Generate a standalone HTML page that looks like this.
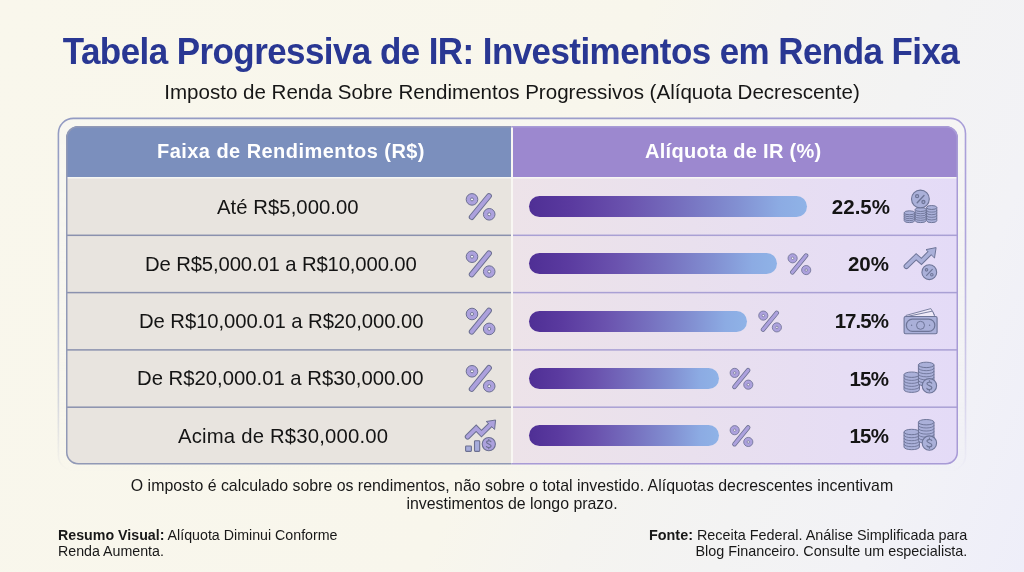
<!DOCTYPE html>
<html><head><meta charset="utf-8">
<style>
*{margin:0;padding:0;box-sizing:border-box}
html,body{width:1024px;height:572px;overflow:hidden}
body{position:relative;font-family:"Liberation Sans",sans-serif;color:#1c1c1c;
background:linear-gradient(112deg,#f9f7ec 0%,#f8f6ec 52%,#f5f4f0 63%,#f3f3f3 75%,#f2f2f6 87%,#eeeef9 100%);}
.abs{position:absolute;white-space:nowrap}
.abs,.ht,.rt,.pt{will-change:transform}
#title{left:-1.5px;width:1024px;text-align:center;top:32.4px;font-size:35px;line-height:40px;font-weight:bold;color:#293793;letter-spacing:-0.58px;transform:scaleY(1.05);transform-origin:50% 31px}
#sub{left:0;width:1024px;text-align:center;top:79.5px;font-size:20.55px;line-height:24px;color:#161616}
.ht{position:absolute;top:139px;font-size:20px;font-weight:bold;color:#fff;line-height:24px;letter-spacing:0.45px;white-space:nowrap}
.rt{position:absolute;font-size:20.3px;line-height:24px;color:#141414;white-space:nowrap}
.pt{position:absolute;font-size:20.5px;line-height:24px;font-weight:bold;color:#141414;text-align:right;width:80px;white-space:nowrap}
.bar{position:absolute;left:528.7px;height:21.1px;border-radius:10.55px;background:linear-gradient(90deg,#4f2f95 0%,#5a3a9f 15%,#6a52ae 35%,#7670bf 55%,#8290d2 75%,#8cabe3 90%,#8fb3e7 100%)}
#foot{left:0;width:1024px;text-align:center;top:476.5px;font-size:15.9px;line-height:17.7px;color:#181818}
#fl{left:58px;top:526.9px;font-size:14.22px;line-height:16.2px;color:#181818}
#fr{right:57px;top:526.5px;font-size:14.4px;line-height:16.2px;color:#181818;text-align:right}
svg{position:absolute;left:0;top:0;overflow:visible}
</style></head><body>
<div class="abs" id="title">Tabela Progressiva de IR: Investimentos em Renda Fixa</div>
<div class="abs" id="sub">Imposto de Renda Sobre Rendimentos Progressivos (Alíquota Decrescente)</div>
<svg width="1024" height="572" viewBox="0 0 1024 572"><defs>
<linearGradient id="gFrame" x1="58" y1="0" x2="966" y2="0" gradientUnits="userSpaceOnUse"><stop offset="0" stop-color="#939bc2"/><stop offset="0.5" stop-color="#9a9dc8"/><stop offset="1" stop-color="#a89dd8"/></linearGradient>
<linearGradient id="gFade" x1="0" y1="118" x2="0" y2="472" gradientUnits="userSpaceOnUse"><stop offset="0" stop-color="#fff"/><stop offset="0.35" stop-color="#fff" stop-opacity="0.9"/><stop offset="0.8" stop-color="#fff" stop-opacity="0.35"/><stop offset="1" stop-color="#fff" stop-opacity="0"/></linearGradient>
<mask id="mFade" maskUnits="userSpaceOnUse" x="0" y="0" width="1024" height="572"><rect x="0" y="0" width="1024" height="572" fill="url(#gFade)"/></mask>
<linearGradient id="gRow" x1="513" y1="0" x2="958" y2="0" gradientUnits="userSpaceOnUse"><stop offset="0" stop-color="#ede3e9"/><stop offset="0.4" stop-color="#e9e0ee"/><stop offset="0.75" stop-color="#e6ddf4"/><stop offset="1" stop-color="#e4dbf7"/></linearGradient>
<linearGradient id="gBar" x1="0" y1="0" x2="1" y2="0"><stop offset="0" stop-color="#4d2b93"/><stop offset="0.35" stop-color="#6a55b0"/><stop offset="0.7" stop-color="#8385cc"/><stop offset="1" stop-color="#8fb2e6"/></linearGradient>
</defs>
<rect x="58.4" y="118.4" width="907.1" height="352" rx="15" ry="15" fill="#f7f6f4" fill-opacity="0.6" stroke="url(#gFrame)" stroke-width="1.6" mask="url(#mFade)"/>
<clipPath id="cTbl"><rect x="66.0" y="126.0" width="892.0" height="338.5" rx="12" ry="12"/></clipPath>
<g clip-path="url(#cTbl)"><rect x="66.0" y="126.0" width="445.0" height="51.19999999999999" fill="#7b8fbd"/><rect x="513.0" y="126.0" width="445.0" height="51.19999999999999" fill="#9c88cf"/><rect x="66.0" y="177.2" width="892.0" height="1.3000000000000114" fill="#fbfaf7"/><rect x="66.0" y="178.5" width="445.0" height="286.0" fill="#e8e4df"/><rect x="513.0" y="178.5" width="445.0" height="286.0" fill="url(#gRow)"/><rect x="66.0" y="234.55" width="445.5" height="1.5" fill="#8a91ae"/><rect x="511.5" y="234.55" width="446.5" height="1.5" fill="#a9a0d4"/><rect x="66.0" y="291.85" width="445.5" height="1.5" fill="#8a91ae"/><rect x="511.5" y="291.85" width="446.5" height="1.5" fill="#a9a0d4"/><rect x="66.0" y="349.15" width="445.5" height="1.5" fill="#8a91ae"/><rect x="511.5" y="349.15" width="446.5" height="1.5" fill="#a9a0d4"/><rect x="66.0" y="406.45" width="445.5" height="1.5" fill="#8a91ae"/><rect x="511.5" y="406.45" width="446.5" height="1.5" fill="#a9a0d4"/><rect x="511.0" y="126.0" width="2.0" height="338.5" fill="#f8f7f3"/></g>
<clipPath id="cL"><rect x="0" y="0" width="511.5" height="572"/></clipPath><clipPath id="cR"><rect x="511.5" y="0" width="600" height="572"/></clipPath>
<g clip-path="url(#cL)"><rect x="66.75" y="126.75" width="890.5" height="337.0" rx="11.5" ry="11.5" fill="none" stroke-width="1.5"  stroke="#9199b6"/></g>
<g clip-path="url(#cR)"><rect x="66.75" y="126.75" width="890.5" height="337.0" rx="11.5" ry="11.5" fill="none" stroke-width="1.5"  stroke="#a89bd6"/></g></svg>
<div class="ht" style="left:157px">Faixa de Rendimentos (R$)</div>
<div class="ht" style="left:645px;letter-spacing:0.3px">Alíquota de IR (%)</div>
<div class="rt" style="left:217px;top:194.5px;letter-spacing:0.05px;">Até R$5,000.00</div>
<div class="rt" style="left:145.4px;top:251.8px;letter-spacing:-0.13px;">De R$5,000.01 a R$10,000.00</div>
<div class="rt" style="left:139.1px;top:309.1px;letter-spacing:-0.07px;">De R$10,000.01 a R$20,000.00</div>
<div class="rt" style="left:137.4px;top:366.4px;">De R$20,000.01 a R$30,000.00</div>
<div class="rt" style="left:177.8px;top:423.7px;letter-spacing:0.2px;">Acima de R$30,000.00</div>
<div class="bar" style="top:196.1px;width:278.3px"></div>
<div class="bar" style="top:253.3px;width:248.7px"></div>
<div class="bar" style="top:310.5px;width:218.4px"></div>
<div class="bar" style="top:367.7px;width:190.2px"></div>
<div class="bar" style="top:424.9px;width:190.2px"></div>
<div class="pt" style="left:809.8px;top:194.6px;letter-spacing:0px;padding-right:0px">22.5%</div>
<div class="pt" style="left:808.7px;top:251.9px;letter-spacing:0px;padding-right:0px">20%</div>
<div class="pt" style="left:808.7px;top:309.2px;letter-spacing:-0.95px;padding-right:0.95px">17.5%</div>
<div class="pt" style="left:808.7px;top:366.5px;letter-spacing:-0.7px;padding-right:0.7px">15%</div>
<div class="pt" style="left:808.7px;top:423.8px;letter-spacing:-0.7px;padding-right:0.7px">15%</div>
<svg width="1024" height="572" viewBox="0 0 1024 572"><line x1="489.00" y1="196.00" x2="471.70" y2="217.10" stroke="#6b6f90" stroke-width="5.80" stroke-linecap="round"/>
<line x1="489.00" y1="196.00" x2="471.70" y2="217.10" stroke="#aca1dd" stroke-width="3.90" stroke-linecap="round"/>
<circle cx="472.00" cy="199.40" r="5.80" fill="#aca1dd" stroke="#6b6f90" stroke-width="1.00"/>
<circle cx="472.00" cy="199.40" r="1.50" fill="#f7f5fc" stroke="#6b6f90" stroke-width="0.90"/>
<circle cx="489.20" cy="214.30" r="5.80" fill="#aca1dd" stroke="#6b6f90" stroke-width="1.00"/>
<circle cx="489.20" cy="214.30" r="1.50" fill="#f7f5fc" stroke="#6b6f90" stroke-width="0.90"/>
<line x1="489.00" y1="253.30" x2="471.70" y2="274.40" stroke="#6b6f90" stroke-width="5.80" stroke-linecap="round"/>
<line x1="489.00" y1="253.30" x2="471.70" y2="274.40" stroke="#aca1dd" stroke-width="3.90" stroke-linecap="round"/>
<circle cx="472.00" cy="256.70" r="5.80" fill="#aca1dd" stroke="#6b6f90" stroke-width="1.00"/>
<circle cx="472.00" cy="256.70" r="1.50" fill="#f7f5fc" stroke="#6b6f90" stroke-width="0.90"/>
<circle cx="489.20" cy="271.60" r="5.80" fill="#aca1dd" stroke="#6b6f90" stroke-width="1.00"/>
<circle cx="489.20" cy="271.60" r="1.50" fill="#f7f5fc" stroke="#6b6f90" stroke-width="0.90"/>
<line x1="489.00" y1="310.60" x2="471.70" y2="331.70" stroke="#6b6f90" stroke-width="5.80" stroke-linecap="round"/>
<line x1="489.00" y1="310.60" x2="471.70" y2="331.70" stroke="#aca1dd" stroke-width="3.90" stroke-linecap="round"/>
<circle cx="472.00" cy="314.00" r="5.80" fill="#aca1dd" stroke="#6b6f90" stroke-width="1.00"/>
<circle cx="472.00" cy="314.00" r="1.50" fill="#f7f5fc" stroke="#6b6f90" stroke-width="0.90"/>
<circle cx="489.20" cy="328.90" r="5.80" fill="#aca1dd" stroke="#6b6f90" stroke-width="1.00"/>
<circle cx="489.20" cy="328.90" r="1.50" fill="#f7f5fc" stroke="#6b6f90" stroke-width="0.90"/>
<line x1="489.00" y1="367.90" x2="471.70" y2="389.00" stroke="#6b6f90" stroke-width="5.80" stroke-linecap="round"/>
<line x1="489.00" y1="367.90" x2="471.70" y2="389.00" stroke="#aca1dd" stroke-width="3.90" stroke-linecap="round"/>
<circle cx="472.00" cy="371.30" r="5.80" fill="#aca1dd" stroke="#6b6f90" stroke-width="1.00"/>
<circle cx="472.00" cy="371.30" r="1.50" fill="#f7f5fc" stroke="#6b6f90" stroke-width="0.90"/>
<circle cx="489.20" cy="386.20" r="5.80" fill="#aca1dd" stroke="#6b6f90" stroke-width="1.00"/>
<circle cx="489.20" cy="386.20" r="1.50" fill="#f7f5fc" stroke="#6b6f90" stroke-width="0.90"/>
<line x1="806.03" y1="255.61" x2="792.36" y2="272.28" stroke="#6b6f90" stroke-width="4.58" stroke-linecap="round"/>
<line x1="806.03" y1="255.61" x2="792.36" y2="272.28" stroke="#aca1dd" stroke-width="3.08" stroke-linecap="round"/>
<circle cx="792.60" cy="258.30" r="4.58" fill="#aca1dd" stroke="#6b6f90" stroke-width="0.79"/>
<circle cx="792.60" cy="258.30" r="1.19" fill="#f7f5fc" stroke="#6b6f90" stroke-width="0.71"/>
<circle cx="806.19" cy="270.07" r="4.58" fill="#aca1dd" stroke="#6b6f90" stroke-width="0.79"/>
<circle cx="806.19" cy="270.07" r="1.19" fill="#f7f5fc" stroke="#6b6f90" stroke-width="0.71"/>
<line x1="776.73" y1="312.91" x2="763.06" y2="329.58" stroke="#6b6f90" stroke-width="4.58" stroke-linecap="round"/>
<line x1="776.73" y1="312.91" x2="763.06" y2="329.58" stroke="#aca1dd" stroke-width="3.08" stroke-linecap="round"/>
<circle cx="763.30" cy="315.60" r="4.58" fill="#aca1dd" stroke="#6b6f90" stroke-width="0.79"/>
<circle cx="763.30" cy="315.60" r="1.19" fill="#f7f5fc" stroke="#6b6f90" stroke-width="0.71"/>
<circle cx="776.89" cy="327.37" r="4.58" fill="#aca1dd" stroke="#6b6f90" stroke-width="0.79"/>
<circle cx="776.89" cy="327.37" r="1.19" fill="#f7f5fc" stroke="#6b6f90" stroke-width="0.71"/>
<line x1="748.13" y1="370.21" x2="734.46" y2="386.88" stroke="#6b6f90" stroke-width="4.58" stroke-linecap="round"/>
<line x1="748.13" y1="370.21" x2="734.46" y2="386.88" stroke="#aca1dd" stroke-width="3.08" stroke-linecap="round"/>
<circle cx="734.70" cy="372.90" r="4.58" fill="#aca1dd" stroke="#6b6f90" stroke-width="0.79"/>
<circle cx="734.70" cy="372.90" r="1.19" fill="#f7f5fc" stroke="#6b6f90" stroke-width="0.71"/>
<circle cx="748.29" cy="384.67" r="4.58" fill="#aca1dd" stroke="#6b6f90" stroke-width="0.79"/>
<circle cx="748.29" cy="384.67" r="1.19" fill="#f7f5fc" stroke="#6b6f90" stroke-width="0.71"/>
<line x1="748.13" y1="427.51" x2="734.46" y2="444.18" stroke="#6b6f90" stroke-width="4.58" stroke-linecap="round"/>
<line x1="748.13" y1="427.51" x2="734.46" y2="444.18" stroke="#aca1dd" stroke-width="3.08" stroke-linecap="round"/>
<circle cx="734.70" cy="430.20" r="4.58" fill="#aca1dd" stroke="#6b6f90" stroke-width="0.79"/>
<circle cx="734.70" cy="430.20" r="1.19" fill="#f7f5fc" stroke="#6b6f90" stroke-width="0.71"/>
<circle cx="748.29" cy="441.97" r="4.58" fill="#aca1dd" stroke="#6b6f90" stroke-width="0.79"/>
<circle cx="748.29" cy="441.97" r="1.19" fill="#f7f5fc" stroke="#6b6f90" stroke-width="0.71"/>
<rect x="465.6" y="446.0" width="5.8" height="5.4" rx="0.8" fill="#a6acdb" stroke="#6b6f90" stroke-width="1.1"/>
<rect x="474.5" y="440.8" width="5.2" height="10.6" rx="0.8" fill="#a6acdb" stroke="#6b6f90" stroke-width="1.1"/>
<polyline points="467.60,436.80 476.20,428.20 481.50,433.60 491.00,424.30" fill="none" stroke="#6b6f90" stroke-width="5.60" stroke-linejoin="miter" stroke-linecap="round"/>
<polygon points="486.20,421.50 495.60,420.00 494.60,429.40" fill="#aca1dd" stroke="#6b6f90" stroke-width="1.00" stroke-linejoin="round"/>
<polyline points="467.60,436.80 476.20,428.20 481.50,433.60 491.00,424.30" fill="none" stroke="#aca1dd" stroke-width="3.60" stroke-linejoin="miter" stroke-linecap="round"/>
<circle cx="488.8" cy="444.1" r="6.6" fill="#aca1dd" stroke="#6b6f90" stroke-width="1.1"/>
<path d="M490.92,441.70 C490.28,440.41 486.40,440.41 486.59,442.44 C486.77,443.92 491.20,444.10 491.11,445.94 C491.01,447.97 487.14,447.97 486.49,446.50" fill="none" stroke="#6b6f90" stroke-width="1.11" stroke-linecap="round"/>
<line x1="488.80" y1="438.94" x2="488.80" y2="440.41" stroke="#6b6f90" stroke-width="1.01"/>
<line x1="488.80" y1="447.79" x2="488.80" y2="449.26" stroke="#6b6f90" stroke-width="1.01"/>
<path d="M904.20,212.80 L904.20,220.60 A5.25,2.00 0 0 0 914.70,220.60 L914.70,212.80 Z" fill="#aab0d9" stroke="#6e7598" stroke-width="1.0"/>
<path d="M904.20,214.75 A5.25,2.00 0 0 0 914.70,214.75" fill="none" stroke="#6e7598" stroke-width="0.90"/>
<path d="M904.20,216.70 A5.25,2.00 0 0 0 914.70,216.70" fill="none" stroke="#6e7598" stroke-width="0.90"/>
<path d="M904.20,218.65 A5.25,2.00 0 0 0 914.70,218.65" fill="none" stroke="#6e7598" stroke-width="0.90"/>
<ellipse cx="909.45" cy="212.80" rx="5.25" ry="2.00" fill="#aab0d9" stroke="#6e7598" stroke-width="1.0"/>
<path d="M926.60,207.50 L926.60,220.60 A5.10,2.00 0 0 0 936.80,220.60 L936.80,207.50 Z" fill="#aab0d9" stroke="#6e7598" stroke-width="1.0"/>
<path d="M926.60,210.12 A5.10,2.00 0 0 0 936.80,210.12" fill="none" stroke="#6e7598" stroke-width="0.90"/>
<path d="M926.60,212.74 A5.10,2.00 0 0 0 936.80,212.74" fill="none" stroke="#6e7598" stroke-width="0.90"/>
<path d="M926.60,215.36 A5.10,2.00 0 0 0 936.80,215.36" fill="none" stroke="#6e7598" stroke-width="0.90"/>
<path d="M926.60,217.98 A5.10,2.00 0 0 0 936.80,217.98" fill="none" stroke="#6e7598" stroke-width="0.90"/>
<ellipse cx="931.70" cy="207.50" rx="5.10" ry="2.00" fill="#aab0d9" stroke="#6e7598" stroke-width="1.0"/>
<path d="M915.20,209.50 L915.20,220.60 A5.45,2.00 0 0 0 926.10,220.60 L926.10,209.50 Z" fill="#aab0d9" stroke="#6e7598" stroke-width="1.0"/>
<path d="M915.20,211.72 A5.45,2.00 0 0 0 926.10,211.72" fill="none" stroke="#6e7598" stroke-width="0.90"/>
<path d="M915.20,213.94 A5.45,2.00 0 0 0 926.10,213.94" fill="none" stroke="#6e7598" stroke-width="0.90"/>
<path d="M915.20,216.16 A5.45,2.00 0 0 0 926.10,216.16" fill="none" stroke="#6e7598" stroke-width="0.90"/>
<path d="M915.20,218.38 A5.45,2.00 0 0 0 926.10,218.38" fill="none" stroke="#6e7598" stroke-width="0.90"/>
<ellipse cx="920.65" cy="209.50" rx="5.45" ry="2.00" fill="#aab0d9" stroke="#6e7598" stroke-width="1.0"/>
<circle cx="920.4" cy="199.0" r="8.9" fill="#aab0d9" stroke="#6e7598" stroke-width="1.1"/>
<line x1="924.00" y1="195.60" x2="917.20" y2="202.80" stroke="#6e7598" stroke-width="1.40" stroke-linecap="round"/>
<circle cx="917.10" cy="196.20" r="1.50" fill="none" stroke="#6e7598" stroke-width="1.30"/>
<circle cx="923.40" cy="202.00" r="1.50" fill="none" stroke="#6e7598" stroke-width="1.30"/>
<polyline points="906.40,266.20 916.20,256.80 921.40,261.40 931.00,251.80" fill="none" stroke="#6e7598" stroke-width="5.60" stroke-linejoin="miter" stroke-linecap="round"/>
<polygon points="926.00,249.60 936.10,247.60 934.50,258.00" fill="#aab0d9" stroke="#6e7598" stroke-width="1.00" stroke-linejoin="round"/>
<polyline points="906.40,266.20 916.20,256.80 921.40,261.40 931.00,251.80" fill="none" stroke="#aab0d9" stroke-width="3.60" stroke-linejoin="miter" stroke-linecap="round"/>
<circle cx="929.3" cy="272.2" r="7.4" fill="#aab0d9" stroke="#6e7598" stroke-width="1.1"/>
<line x1="932.33" y1="269.34" x2="926.61" y2="275.39" stroke="#6e7598" stroke-width="1.18" stroke-linecap="round"/>
<circle cx="926.53" cy="269.85" r="1.26" fill="none" stroke="#6e7598" stroke-width="1.09"/>
<circle cx="931.82" cy="274.72" r="1.26" fill="none" stroke="#6e7598" stroke-width="1.09"/>
<path d="M905.70,315.50 L930.80,308.60 L934.50,314.90" fill="#efeaf8" stroke="#6e7598" stroke-width="0.9" stroke-linejoin="round"/>
<path d="M908.10,316.30 L932.50,311.10 L934.70,316.30" fill="#efeaf8" stroke="#6e7598" stroke-width="0.9" stroke-linejoin="round"/>
<rect x="904.10" y="316.50" width="33" height="17.3" rx="1.5" fill="#aab0d9" stroke="#6e7598" stroke-width="1.1"/>
<rect x="906.40" y="319.10" width="28.4" height="12.3" rx="6" fill="none" stroke="#6e7598" stroke-width="1.2"/>
<circle cx="920.50" cy="325.30" r="4.0" fill="none" stroke="#6e7598" stroke-width="1.0"/>
<circle cx="911.60" cy="325.30" r="0.7" fill="#6e7598"/>
<circle cx="929.60" cy="325.30" r="0.7" fill="#6e7598"/>
<path d="M904.00,374.70 L904.00,389.70 A7.70,2.70 0 0 0 919.40,389.70 L919.40,374.70 Z" fill="#aab0d9" stroke="#6e7598" stroke-width="1.0"/>
<path d="M904.00,377.70 A7.70,2.70 0 0 0 919.40,377.70" fill="none" stroke="#6e7598" stroke-width="0.90"/>
<path d="M904.00,380.70 A7.70,2.70 0 0 0 919.40,380.70" fill="none" stroke="#6e7598" stroke-width="0.90"/>
<path d="M904.00,383.70 A7.70,2.70 0 0 0 919.40,383.70" fill="none" stroke="#6e7598" stroke-width="0.90"/>
<path d="M904.00,386.70 A7.70,2.70 0 0 0 919.40,386.70" fill="none" stroke="#6e7598" stroke-width="0.90"/>
<ellipse cx="911.70" cy="374.70" rx="7.70" ry="2.70" fill="#aab0d9" stroke="#6e7598" stroke-width="1.0"/>
<path d="M918.40,364.90 L918.40,383.30 A7.80,2.70 0 0 0 934.00,383.30 L934.00,364.90 Z" fill="#aab0d9" stroke="#6e7598" stroke-width="1.0"/>
<path d="M918.40,367.97 A7.80,2.70 0 0 0 934.00,367.97" fill="none" stroke="#6e7598" stroke-width="0.90"/>
<path d="M918.40,371.03 A7.80,2.70 0 0 0 934.00,371.03" fill="none" stroke="#6e7598" stroke-width="0.90"/>
<path d="M918.40,374.10 A7.80,2.70 0 0 0 934.00,374.10" fill="none" stroke="#6e7598" stroke-width="0.90"/>
<path d="M918.40,377.17 A7.80,2.70 0 0 0 934.00,377.17" fill="none" stroke="#6e7598" stroke-width="0.90"/>
<path d="M918.40,380.23 A7.80,2.70 0 0 0 934.00,380.23" fill="none" stroke="#6e7598" stroke-width="0.90"/>
<ellipse cx="926.20" cy="364.90" rx="7.80" ry="2.70" fill="#aab0d9" stroke="#6e7598" stroke-width="1.0"/>
<circle cx="929.4" cy="385.8" r="7.2" fill="#aab0d9" stroke="#6e7598" stroke-width="1.1"/>
<path d="M931.70,383.20 C931.00,381.80 926.80,381.80 927.00,384.00 C927.20,385.60 932.00,385.80 931.90,387.80 C931.80,390.00 927.60,390.00 926.90,388.40" fill="none" stroke="#6e7598" stroke-width="1.20" stroke-linecap="round"/>
<line x1="929.40" y1="380.20" x2="929.40" y2="381.80" stroke="#6e7598" stroke-width="1.10"/>
<line x1="929.40" y1="389.80" x2="929.40" y2="391.40" stroke="#6e7598" stroke-width="1.10"/>
<path d="M904.00,432.00 L904.00,447.00 A7.70,2.70 0 0 0 919.40,447.00 L919.40,432.00 Z" fill="#aab0d9" stroke="#6e7598" stroke-width="1.0"/>
<path d="M904.00,435.00 A7.70,2.70 0 0 0 919.40,435.00" fill="none" stroke="#6e7598" stroke-width="0.90"/>
<path d="M904.00,438.00 A7.70,2.70 0 0 0 919.40,438.00" fill="none" stroke="#6e7598" stroke-width="0.90"/>
<path d="M904.00,441.00 A7.70,2.70 0 0 0 919.40,441.00" fill="none" stroke="#6e7598" stroke-width="0.90"/>
<path d="M904.00,444.00 A7.70,2.70 0 0 0 919.40,444.00" fill="none" stroke="#6e7598" stroke-width="0.90"/>
<ellipse cx="911.70" cy="432.00" rx="7.70" ry="2.70" fill="#aab0d9" stroke="#6e7598" stroke-width="1.0"/>
<path d="M918.40,422.20 L918.40,440.60 A7.80,2.70 0 0 0 934.00,440.60 L934.00,422.20 Z" fill="#aab0d9" stroke="#6e7598" stroke-width="1.0"/>
<path d="M918.40,425.27 A7.80,2.70 0 0 0 934.00,425.27" fill="none" stroke="#6e7598" stroke-width="0.90"/>
<path d="M918.40,428.33 A7.80,2.70 0 0 0 934.00,428.33" fill="none" stroke="#6e7598" stroke-width="0.90"/>
<path d="M918.40,431.40 A7.80,2.70 0 0 0 934.00,431.40" fill="none" stroke="#6e7598" stroke-width="0.90"/>
<path d="M918.40,434.47 A7.80,2.70 0 0 0 934.00,434.47" fill="none" stroke="#6e7598" stroke-width="0.90"/>
<path d="M918.40,437.53 A7.80,2.70 0 0 0 934.00,437.53" fill="none" stroke="#6e7598" stroke-width="0.90"/>
<ellipse cx="926.20" cy="422.20" rx="7.80" ry="2.70" fill="#aab0d9" stroke="#6e7598" stroke-width="1.0"/>
<circle cx="929.4" cy="443.1" r="7.2" fill="#aab0d9" stroke="#6e7598" stroke-width="1.1"/>
<path d="M931.70,440.50 C931.00,439.10 926.80,439.10 927.00,441.30 C927.20,442.90 932.00,443.10 931.90,445.10 C931.80,447.30 927.60,447.30 926.90,445.70" fill="none" stroke="#6e7598" stroke-width="1.20" stroke-linecap="round"/>
<line x1="929.40" y1="437.50" x2="929.40" y2="439.10" stroke="#6e7598" stroke-width="1.10"/>
<line x1="929.40" y1="447.10" x2="929.40" y2="448.70" stroke="#6e7598" stroke-width="1.10"/></svg>
<div class="abs" id="foot">O imposto é calculado sobre os rendimentos, não sobre o total investido. Alíquotas decrescentes incentivam<br>investimentos de longo prazo.</div>
<div class="abs" id="fl"><b>Resumo Visual:</b> Alíquota Diminui Conforme<br>Renda Aumenta.</div>
<div class="abs" id="fr"><b>Fonte:</b> Receita Federal. Análise Simplificada para<br>Blog Financeiro. Consulte um especialista.</div>
</body></html>
